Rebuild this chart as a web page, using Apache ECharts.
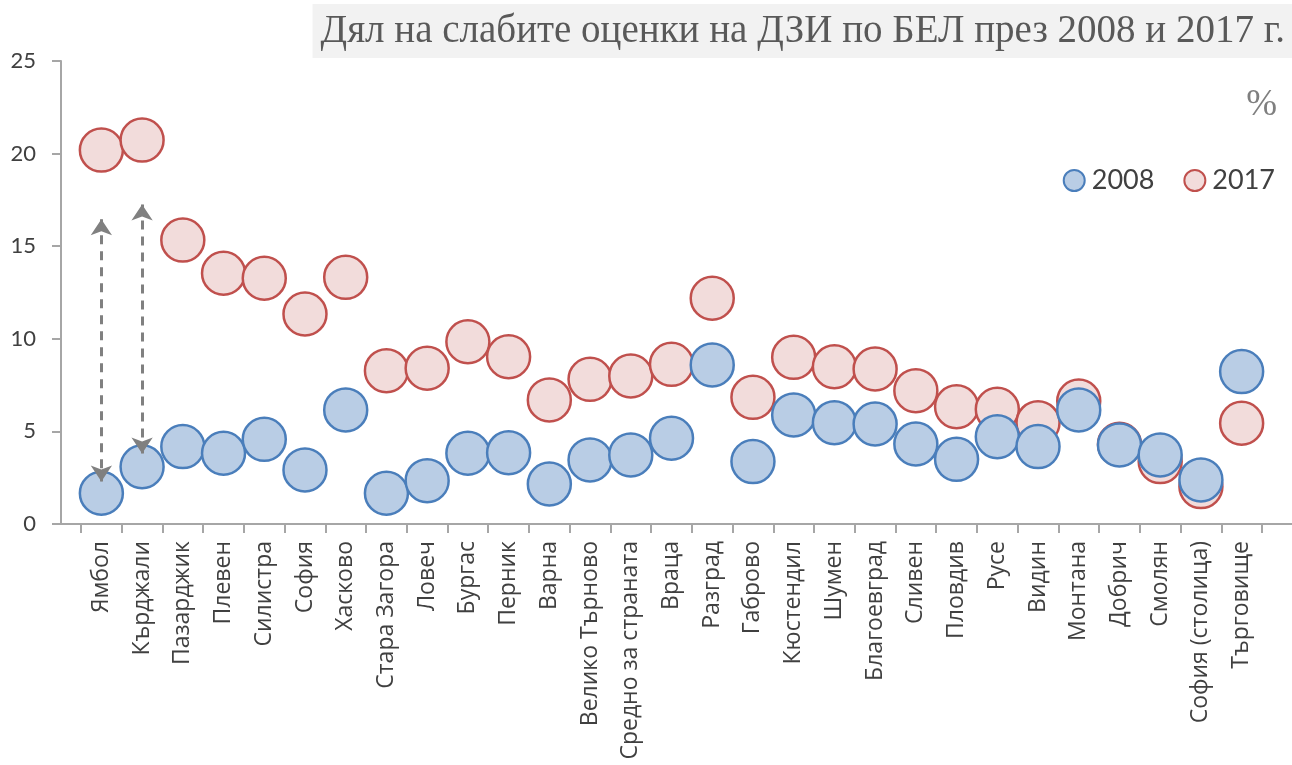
<!DOCTYPE html>
<html>
<head>
<meta charset="utf-8">
<script src="https://cdn.jsdelivr.net/npm/echarts@6/dist/echarts.min.js"></script>
<style>
html,body{margin:0;padding:0;background:#fff;}
#chart{width:1292px;height:765px;}
</style>
</head>
<body>
<div id="chart"></div>
<script>
const categories = ['Ямбол','Кърджали','Пазарджик','Плевен','Силистра','София','Хасково','Стара Загора','Ловеч','Бургас','Перник','Варна','Велико Търново','Средно за страната','Враца','Разград','Габрово','Кюстендил','Шумен','Благоевград','Сливен','Пловдив','Русе','Видин','Монтана','Добрич','Смолян','София (столица)','Търговище'];
const values2008 = [1.66,3.09,4.18,3.82,4.57,2.92,6.16,1.66,2.34,3.82,3.85,2.16,3.46,3.73,4.63,8.59,3.37,5.89,5.47,5.40,4.32,3.49,4.71,4.18,6.16,4.27,3.73,2.38,8.23];
const values2017 = [20.19,20.73,15.33,13.54,13.27,11.34,13.32,8.28,8.41,9.84,9.03,6.70,7.81,7.99,8.62,12.19,6.84,9.00,8.49,8.37,7.20,6.33,6.19,5.47,6.64,4.30,3.37,2.02,5.44];
const yTicks = {min:0, max:25, interval:5};
// annotation arrows: [category, top value, bottom value]
const arrows = [['Ямбол',16.45,2.3],['Кърджали',17.25,3.8]];
const seriesNames = ['2008','2017'];
const titleText = 'Дял на слабите оценки на ДЗИ по БЕЛ през 2008 и 2017 г.';
const unitText = '%';

const chart = echarts.init(document.getElementById('chart'), null, {renderer:'canvas'});
const axisGrey = '#a6a6a6';
const textCol = '#404040';
chart.setOption({
  animation:false,
  backgroundColor:'#ffffff',
  title:[
    {text:titleText, right:0, top:4, padding:[8,7,7,8], backgroundColor:'#f2f2f2',
     textStyle:{fontFamily:'Liberation Serif', fontSize:39, fontWeight:'normal', color:'#595959'}},
    {text:unitText, right:10, top:82,
     textStyle:{fontFamily:'Liberation Serif', fontSize:37, fontWeight:'normal', color:'#7f7f7f'}}
  ],
  legend:{
    data:seriesNames, right:12, top:162, icon:'circle', itemWidth:21, itemHeight:21, itemGap:29,
    textStyle:{fontFamily:'Lato', fontSize:27, color:textCol, padding:[0,0,0,2]}
  },
  grid:[
    {left:81, right:30, top:61, bottom:241},
    {left:61, right:0, top:61, bottom:241}
  ],
  xAxis:[
    {type:'category', gridIndex:0, data:categories, boundaryGap:true,
     axisLine:{show:false},
     axisTick:{show:true, length:9, lineStyle:{color:axisGrey, width:2}},
     axisLabel:{rotate:90, fontFamily:'Open Sans', fontSize:23, color:textCol, margin:17, interval:0},
     splitLine:{show:false}},
    {type:'value', gridIndex:1, min:0, max:1,
     axisLine:{show:true, lineStyle:{color:axisGrey, width:2}},
     axisTick:{show:false}, axisLabel:{show:false}, splitLine:{show:false}}
  ],
  yAxis:[
    {type:'value', gridIndex:0, min:yTicks.min, max:yTicks.max, interval:yTicks.interval, show:false, splitLine:{show:false}},
    {type:'value', gridIndex:1, min:yTicks.min, max:yTicks.max, interval:yTicks.interval,
     axisLine:{show:true, lineStyle:{color:axisGrey, width:2}},
     axisTick:{show:true, length:9, lineStyle:{color:axisGrey, width:2}},
     axisLabel:{fontFamily:'Lato', fontSize:22, color:textCol, margin:25},
     splitLine:{show:false}}
  ],
  series:[
    {name:seriesNames[1], type:'scatter', xAxisIndex:0, yAxisIndex:0, z:2,
     data:values2017, symbol:'circle', symbolSize:43,
     itemStyle:{color:'#f2dcdb', borderColor:'#c0504d', borderWidth:2.5, opacity:1},
     emphasis:{disabled:true},
     markLine:{silent:true, symbol:['arrow','arrow'], symbolSize:[16,16], label:{show:false},
       lineStyle:{color:'#808080', type:[9,7], width:3},
       emphasis:{disabled:true},
       data: arrows.map(a => [{coord:[a[0], a[1]]},{coord:[a[0], a[2]]}])}
    },
    {name:seriesNames[0], type:'scatter', xAxisIndex:0, yAxisIndex:0, z:3,
     data:values2008, symbol:'circle', symbolSize:43,
     itemStyle:{color:'#b9cde5', borderColor:'#4a7ebb', borderWidth:2.5, opacity:1},
     emphasis:{disabled:true}}
  ]
});
</script>
</body>
</html>
